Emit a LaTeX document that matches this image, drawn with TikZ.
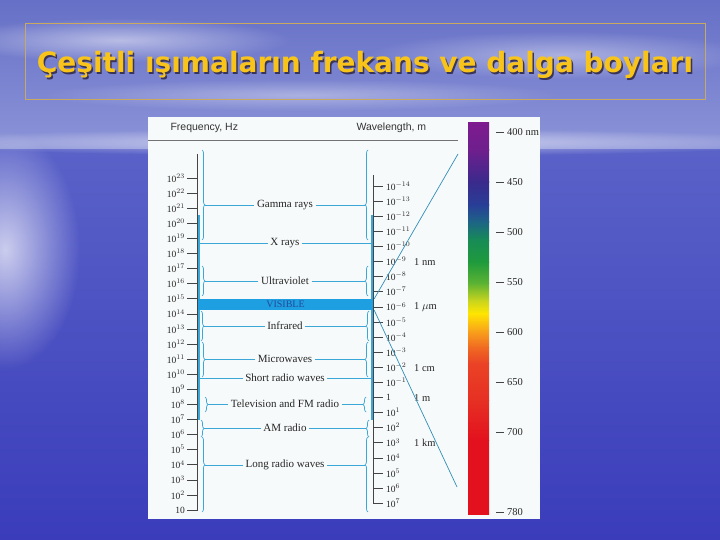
\documentclass[tikz,border=0pt]{standalone}
\usepackage{fontspec}
\setmainfont{Liberation Serif}
\setsansfont{Liberation Sans}
\newfontfamily\titlefont{DejaVu Sans}
\usetikzlibrary{decorations.pathreplacing, fadings}
\tikzfading[name=softedge, inner color=transparent!0, outer color=transparent!100]
\definecolor{skyTop}{HTML}{6670C6}
\definecolor{skyLow}{HTML}{8C94D8}
\definecolor{seaTop}{HTML}{5A62C8}
\definecolor{seaLow}{HTML}{3A3CBA}
\definecolor{tGold}{HTML}{F8C41A}
\definecolor{tFrame}{HTML}{C9A95E}
\definecolor{tShadow}{HTML}{3A3458}
\definecolor{panel}{HTML}{F7FAFB}
\definecolor{axisGray}{HTML}{444444}
\definecolor{lineBlue}{HTML}{3BA7D7}
\definecolor{visBlue}{HTML}{1E9FE2}
\definecolor{visText}{HTML}{244A9A}
% colour bar stops
\definecolor{sA}{HTML}{7D1B8F}
\definecolor{sB}{HTML}{6E1F8D}
\definecolor{sC}{HTML}{3A2A8C}
\definecolor{sD}{HTML}{283F97}
\definecolor{sE}{HTML}{1D6585}
\definecolor{sF}{HTML}{178C55}
\definecolor{sG}{HTML}{1F9B3C}
\definecolor{sH}{HTML}{5CB333}
\definecolor{sI}{HTML}{C7D41E}
\definecolor{sJ}{HTML}{FFE600}
\definecolor{sK}{HTML}{F9A51A}
\definecolor{sL}{HTML}{F06A22}
\definecolor{sM}{HTML}{EA4326}
\definecolor{sN}{HTML}{E63023}
\definecolor{sO}{HTML}{E3111E}

\begin{document}
\begin{tikzpicture}[x=1pt, y=-1pt,
  titletext/.style={font=\titlefont\bfseries\fontsize{28}{32}\selectfont, text=tGold, inner sep=0},
  hdr/.style={font=\sffamily\fontsize{10.5}{12}\selectfont, text=black!80, anchor=west},
  lbl/.style={font=\fontsize{9.5}{11}\selectfont, text=black!85, inner sep=1pt},
  unit/.style={lbl, font=\fontsize{10.5}{12}\selectfont, anchor=west},
  band/.style={font=\fontsize{11}{13}\selectfont, text=black!85, fill=panel, inner sep=2.5pt},
  tickmark/.style={draw=axisGray, line width=0.6pt},
  axisline/.style={draw=axisGray, line width=0.8pt},
  bandline/.style={draw=lineBlue, line width=0.7pt},
  rangeline/.style={draw=lineBlue, line width=1.1pt},
  fanline/.style={draw=lineBlue!85!black, line width=0.7pt},
  rangebrace/.style={draw=lineBlue, line width=0.7pt, decorate,
                     decoration={brace, amplitude=3pt, aspect=#1}},
  rangebrace/.default=0.5,
  haze/.style={fill=white, path fading=softedge},
]
  \useasboundingbox (0,0) rectangle (720,540);
  % slide background: sky and sea
  \shade[top color=skyTop, bottom color=skyLow] (0,0) rectangle (720,150);
  \shade[top color=seaTop, bottom color=seaLow] (0,150) rectangle (720,540);
  \fill[haze, opacity=0.5] (120,40) ellipse [x radius=170, y radius=22];
  \fill[haze, opacity=0.4] (560,55) ellipse [x radius=190, y radius=24];
  \fill[haze, opacity=0.35] (300,95) ellipse [x radius=260, y radius=16];
  \fill[haze, opacity=0.6] (360,142) ellipse [x radius=460, y radius=14];
  \fill[haze, opacity=0.7] (5,250) ellipse [x radius=75, y radius=120];

  % title
  \node[draw=tFrame, line width=0.6pt, minimum width=680pt, minimum height=76pt,
        inner sep=0] (titleBox) at (365,61) {};
  \node[titletext, text=tShadow] (titleShadow) at (366.5,66.5)
    {Çeşitli ışımaların frekans ve dalga boyları};
  \node[titletext] (title) at (365,65) {Çeşitli ışımaların frekans ve dalga boyları};

  % chart panel
  \fill[panel] (148,117) rectangle (540,519);
  \node[hdr] (freqHdr) at (167,128) {Frequency, Hz};
  \node[hdr] (waveHdr) at (353,128) {Wavelength, m};
  \draw[black!55, line width=0.6pt] (148,140) -- (458,140);

  % colour bar
  \foreach \ya/\ca/\yb/\cb in {123/sA/150/sB, 150/sB/182/sC, 182/sC/205/sD,
      205/sD/222/sE, 222/sE/240/sF, 240/sF/262/sG, 262/sG/283/sH, 283/sH/300/sI,
      300/sI/313/sJ, 313/sJ/330/sK, 330/sK/347/sL, 347/sL/363/sM, 363/sM/400/sN,
      400/sN/440/sO, 440/sO/514/sO}
    \shade[top color=\ca, bottom color=\cb] (468,\ya) rectangle (489,\yb+0.6);
  \foreach \l in {400,450,...,700,780} {
    \pgfmathsetmacro\yy{132+(\l-400)}
    \draw[tickmark] (496,\yy) -- (504,\yy);
    \node[unit] (nm\l) at (506,\yy) {\ifnum\l=400 400 nm\else\l\fi};
  }

  % range lines and braces
  \draw[rangeline] (199,215) -- (199,420);
  \draw[rangeline] (372,215) -- (372,420);
  \foreach \ya/\yb/\xl/\xr/\al/\ar in {150/240/202/368/0.61/0.39, 266/296/202/368/0.5/0.5,
      311/341/201/369/0.5/0.5, 342/377/202/368/0.5/0.5, 397/412/205/366/0.5/0.5,
      420/437/201/369/0.5/0.5, 437/512/202/368/0.37/0.63} {
    \draw[rangebrace=\al] (\xl,\ya) -- (\xl,\yb);
    \draw[rangebrace=\ar] (\xr,\yb) -- (\xr,\ya);
  }

  % bands
  \foreach \nm/\txt/\yy/\xl/\xr in {gamma/Gamma rays/205/205/365, xray/X rays/243/199/372,
      uv/Ultraviolet/281/205/365, ir/Infrared/326/204/366, micro/Microwaves/359/205/365,
      short/Short radio waves/378/199/372, tv/Television and FM radio/404/208/363,
      am/AM radio/428/204/366, long/Long radio waves/465/205/365} {
    \node[band] (\nm) at (285,\yy) {\txt};
    \coordinate (\nm L) at (\xl,\yy);
    \coordinate (\nm R) at (\xr,\yy);
    \draw[bandline] (\nm L) -- (\nm) -- (\nm R);
  }
  \node[fill=visBlue, minimum width=177pt, minimum height=11pt, inner sep=0,
        font=\fontsize{10}{11}\selectfont, text=visText] (visible) at (285.5,304.5) {VISIBLE};

  % frequency axis
  \draw[axisline] (197,154) -- (197,511);
  \foreach \n in {1,...,23} {
    \pgfmathsetmacro\yy{510-(\n-1)*15.09}
    \draw[tickmark] (187,\yy) -- (197,\yy);
    \node[lbl, anchor=east] (f\n) at (186,\yy) {\ifnum\n=1 10\else 10$^{\n}$\fi};
  }

  % wavelength axis
  \draw[axisline] (373,175) -- (373,504);
  \foreach \e [count=\i] in {-14,...,7} {
    \pgfmathsetmacro\yy{186+(\e+14)*15.1}
    \draw[tickmark] (373,\yy) -- (383,\yy);
    \node[lbl, anchor=west] (wl\i) at (385,\yy) {\ifnum\e=0 1\else 10$^{\e}$\fi};
  }
  \node[unit] (nmUnit) at (413,262) {1 nm};
  \node[unit] (umUnit) at (413,307) {1 $\mu$m};
  \node[unit] (cmUnit) at (413,368) {1 cm};
  \node[unit] (mUnit) at (413,398) {1 m};
  \node[unit] (kmUnit) at (413,443) {1 km};

  % fan to the colour bar
  \coordinate (fanTop) at (458,154);
  \coordinate (fanBot) at (457,487);
  \draw[fanline] (visible.north east) -- (fanTop);
  \draw[fanline] (visible.south east) -- (fanBot);
\end{tikzpicture}
\end{document}
